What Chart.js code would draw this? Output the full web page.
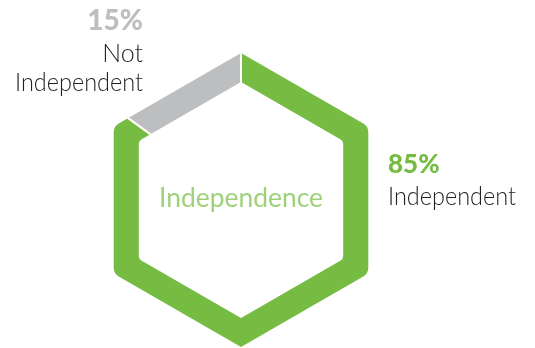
<!DOCTYPE html>
<html>
<head>
<meta charset="utf-8">
<script src="https://cdn.jsdelivr.net/npm/chart.js@4.4.0/dist/chart.umd.min.js"></script>
<style>
  html, body { margin: 0; padding: 0; background: #fff; }
  #wrap { width: 535px; height: 348px; }
</style>
</head>
<body>
<div id="wrap"><canvas id="hexChart" width="535" height="348"></canvas></div>
<script>
// data
const labels = ["Independent", "Not Independent"];
const values = [85, 15];
const centerTitle = "Independence";

const GREEN = "#76bc43";
const GREY = "#bcbec0";
const LIGHT_GREEN = "#9fd17a";
const TEXT = "#231f20";
const FONT = "Lato, 'Open Sans', sans-serif";

// hexagon ring geometry (relative to the doughnut centre)
const HEX_OUTER = 147;
const HEX_INNER = 118;

function hexPath(ctx, cx, cy, r, round) {
  // pointy-top hexagon, sharp top/bottom, rounded side corners
  const pts = [];
  for (let i = 0; i < 6; i++) {
    const a = (i * 60 - 90) * Math.PI / 180;
    pts.push([cx + r * Math.cos(a), cy + r * Math.sin(a)]);
  }
  ctx.moveTo(pts[0][0], pts[0][1]);
  ctx.arcTo(pts[1][0], pts[1][1], pts[2][0], pts[2][1], round);
  ctx.arcTo(pts[2][0], pts[2][1], pts[3][0], pts[3][1], round);
  ctx.lineTo(pts[3][0], pts[3][1]);
  ctx.arcTo(pts[4][0], pts[4][1], pts[5][0], pts[5][1], round);
  ctx.arcTo(pts[5][0], pts[5][1], pts[0][0], pts[0][1], round);
  ctx.closePath();
}

const hexClip = {
  id: "hexClip",
  beforeDatasetsDraw(chart) {
    const arc = chart.getDatasetMeta(0).data[0];
    const ctx = chart.ctx;
    ctx.save();
    ctx.beginPath();
    hexPath(ctx, arc.x, arc.y, HEX_OUTER, 10);
    hexPath(ctx, arc.x, arc.y, HEX_INNER, 5);
    ctx.clip("evenodd");
  },
  afterDatasetsDraw(chart) {
    chart.ctx.restore();
  }
};

const hexLabels = {
  id: "hexLabels",
  afterDraw(chart) {
    const ctx = chart.ctx;
    const arc = chart.getDatasetMeta(0).data[0];
    ctx.save();
    ctx.textBaseline = "alphabetic";

    // centre title
    ctx.textAlign = "center";
    ctx.fillStyle = LIGHT_GREEN;
    ctx.font = "400 27px " + FONT;
    ctx.fillText(centerTitle, arc.x, 207, 164);

    // right label (Independent)
    ctx.textAlign = "left";
    ctx.fillStyle = GREEN;
    ctx.font = "900 26px " + FONT;
    ctx.fillText(values[0] + "%", 388, 173, 58);
    ctx.fillStyle = TEXT;
    ctx.font = "300 25px " + FONT;
    ctx.fillText(labels[0], 388, 205, 128);

    // left label (Not Independent)
    ctx.textAlign = "right";
    ctx.fillStyle = GREY;
    ctx.font = "900 28px " + FONT;
    ctx.fillText(values[1] + "%", 143, 30, 61);
    ctx.fillStyle = TEXT;
    ctx.font = "300 25px " + FONT;
    const words = labels[1].split(" ");
    ctx.fillText(words[0], 143, 62);
    ctx.fillText(words[1], 143, 91, 128);
    ctx.restore();
  }
};

new Chart(document.getElementById("hexChart"), {
  type: "doughnut",
  data: {
    labels: labels,
    datasets: [{
      data: values,
      backgroundColor: [GREEN, GREY],
      borderColor: "#ffffff",
      borderWidth: 2
    }]
  },
  options: {
    responsive: false,
    animation: false,
    radius: 175,
    cutout: "30%",
    layout: { padding: { left: 0, right: 53, top: 52, bottom: 0 } },
    plugins: {
      legend: { display: false },
      tooltip: { enabled: false }
    }
  },
  plugins: [hexClip, hexLabels]
});
</script>
</body>
</html>
